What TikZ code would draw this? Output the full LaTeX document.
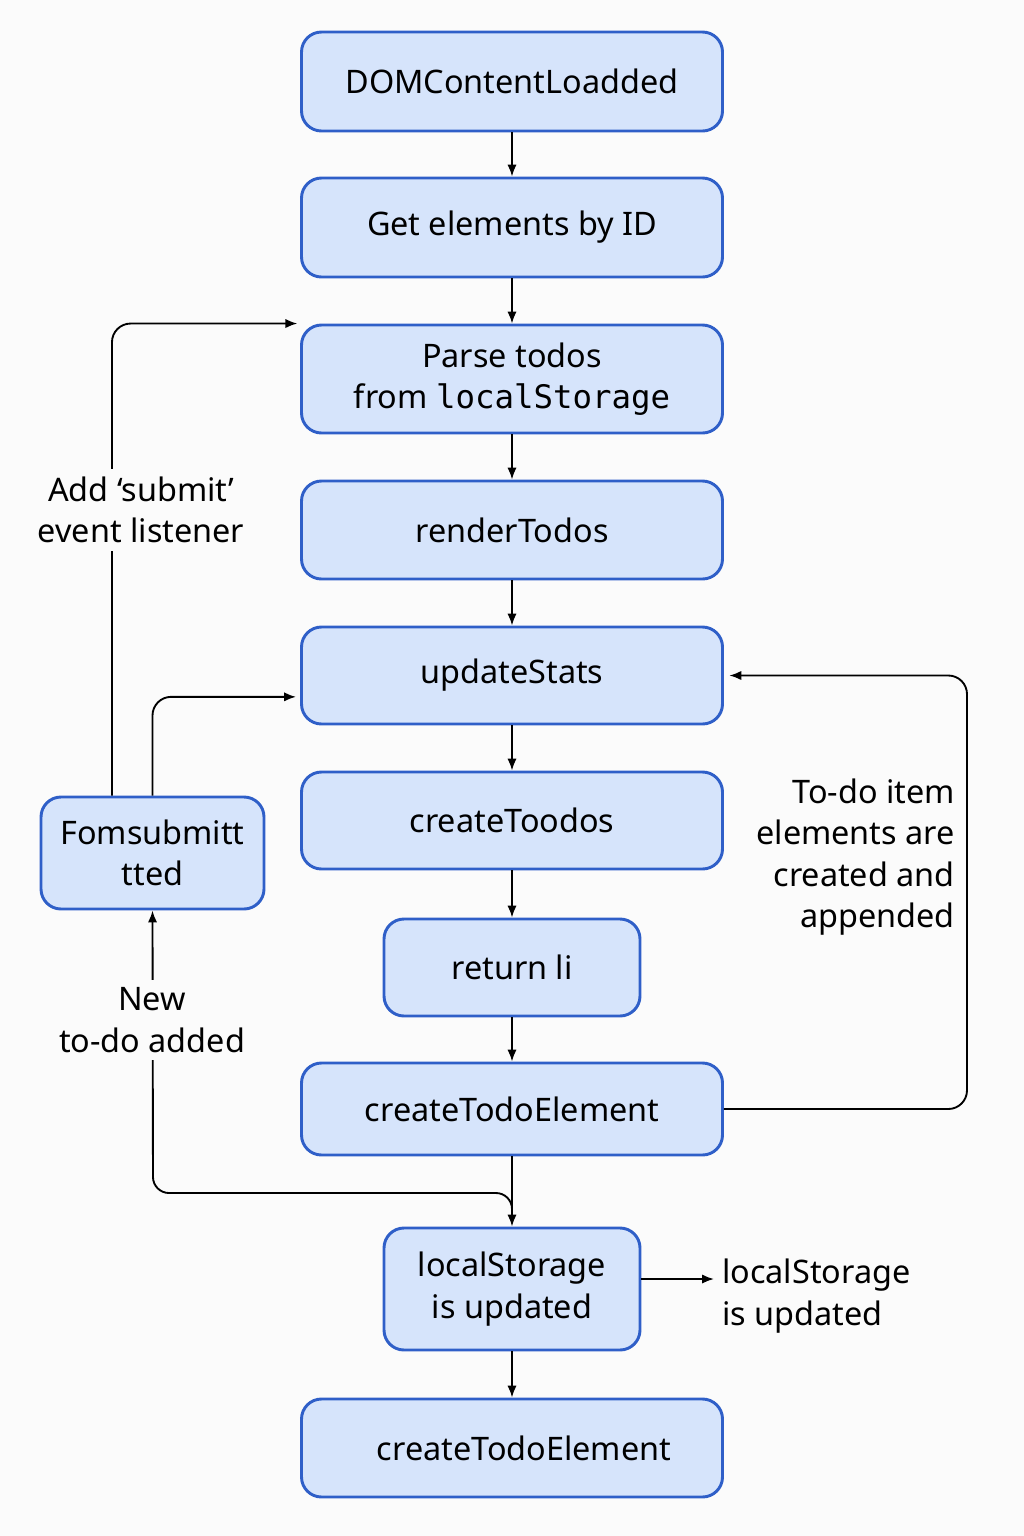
\documentclass[tikz,border=0pt]{standalone}
\usepackage{fontspec}
\setmainfont{Noto Sans}
\setmonofont{DejaVu Sans Mono}
\usetikzlibrary{arrows.meta}
\definecolor{boxfill}{HTML}{D6E4FB}
\definecolor{boxline}{HTML}{2F5FC8}
\definecolor{bg}{HTML}{FBFBFB}
\begin{document}
\begin{tikzpicture}[x=0.75pt,y=-0.75pt,
  txt/.style={font=\fontsize{24.3}{31}\selectfont},
  box/.style={txt, draw=boxline, fill=boxfill, line width=2.2pt, rounded corners=15pt,
    minimum width=315.75pt, align=center, inner sep=0pt},
  arr/.style={-{Latex[length=9pt,width=7pt]}, line width=1.4pt},
  lbl/.style={txt, align=center, fill=bg, inner sep=6pt}]
\fill[bg] (0,0) rectangle (1024,1536);
\useasboundingbox (0,0) rectangle (1024,1536);

\node[box, minimum height=74.25pt] (dom) at (512,81.5) {DOMContentLoadded};
\node[box, minimum height=74.25pt] (get) at (512,227.5) {Get elements by ID};
\node[box, minimum height=81pt] (parse) at (512,379) {Parse todos\\from \texttt{localStorage}};
\node[box, minimum height=73.5pt] (render) at (512,530) {renderTodos};
\node[box, minimum height=72.75pt] (upd) at (512,675.5) {updateStats};
\node[box, minimum height=72.75pt] (create) at (512,820.5) {createToodos};
\node[box, minimum width=192pt, minimum height=72.75pt] (ret) at (512,967.5) {return li};
\node[box, minimum height=69pt] (todoel) at (512,1109) {createTodoElement};
\node[box, minimum width=192pt, minimum height=91.5pt] (ls) at (512,1289) {localStorage\\is updated};
\node[box, minimum height=73.5pt] (todoel2) at (512,1448) {\hspace*{18pt}createTodoElement};
\node[box, minimum width=167.25pt, minimum height=84pt] (form) at (152.5,853) {Fomsubmitt\\tted};

\foreach \a/\b in {dom/get,get/parse,parse/render,render/upd,upd/create,create/ret,ret/todoel,todoel/ls,ls/todoel2}
  \draw[arr] (\a.south) -- (\b.north);

% add submit loop
\draw[arr, rounded corners=14pt, shorten >=2pt] ([xshift=-30.4pt]form.north) |- (parse.north west);
\node[lbl] (addlbl) at (141,510) {Add ‘submit’\\event listener};

% form -> updateStats
\draw[arr, rounded corners=14pt, shorten >=3pt] (form.north) |- ([yshift=-16pt]upd.west);

% new to-do added
\coordinate (jc) at (153,1193);
\draw[arr, rounded corners=12pt] ([yshift=10pt]ls.north) |- (jc) -- (form.south);
\node[lbl] (newlbl) at (152,1020) {New\\to-do added};

% right loop
\coordinate (rc) at (967,900);
\draw[arr, rounded corners=14pt, shorten >=4pt] (todoel.east) -| (rc) |- (upd.east);
\node[txt, align=right, anchor=east, inner sep=0pt] (rlbl) at (955,857) {To-do item\\elements are\\created  and\\appended};

% localStorage out
\node[txt, align=left, anchor=west, inner sep=0pt] (lsout) at (722,1296) {localStorage\\is updated};
\coordinate (lsa) at (714,1279);
\draw[arr] (ls.east |- lsa) -- (lsa);
\end{tikzpicture}
\end{document}
